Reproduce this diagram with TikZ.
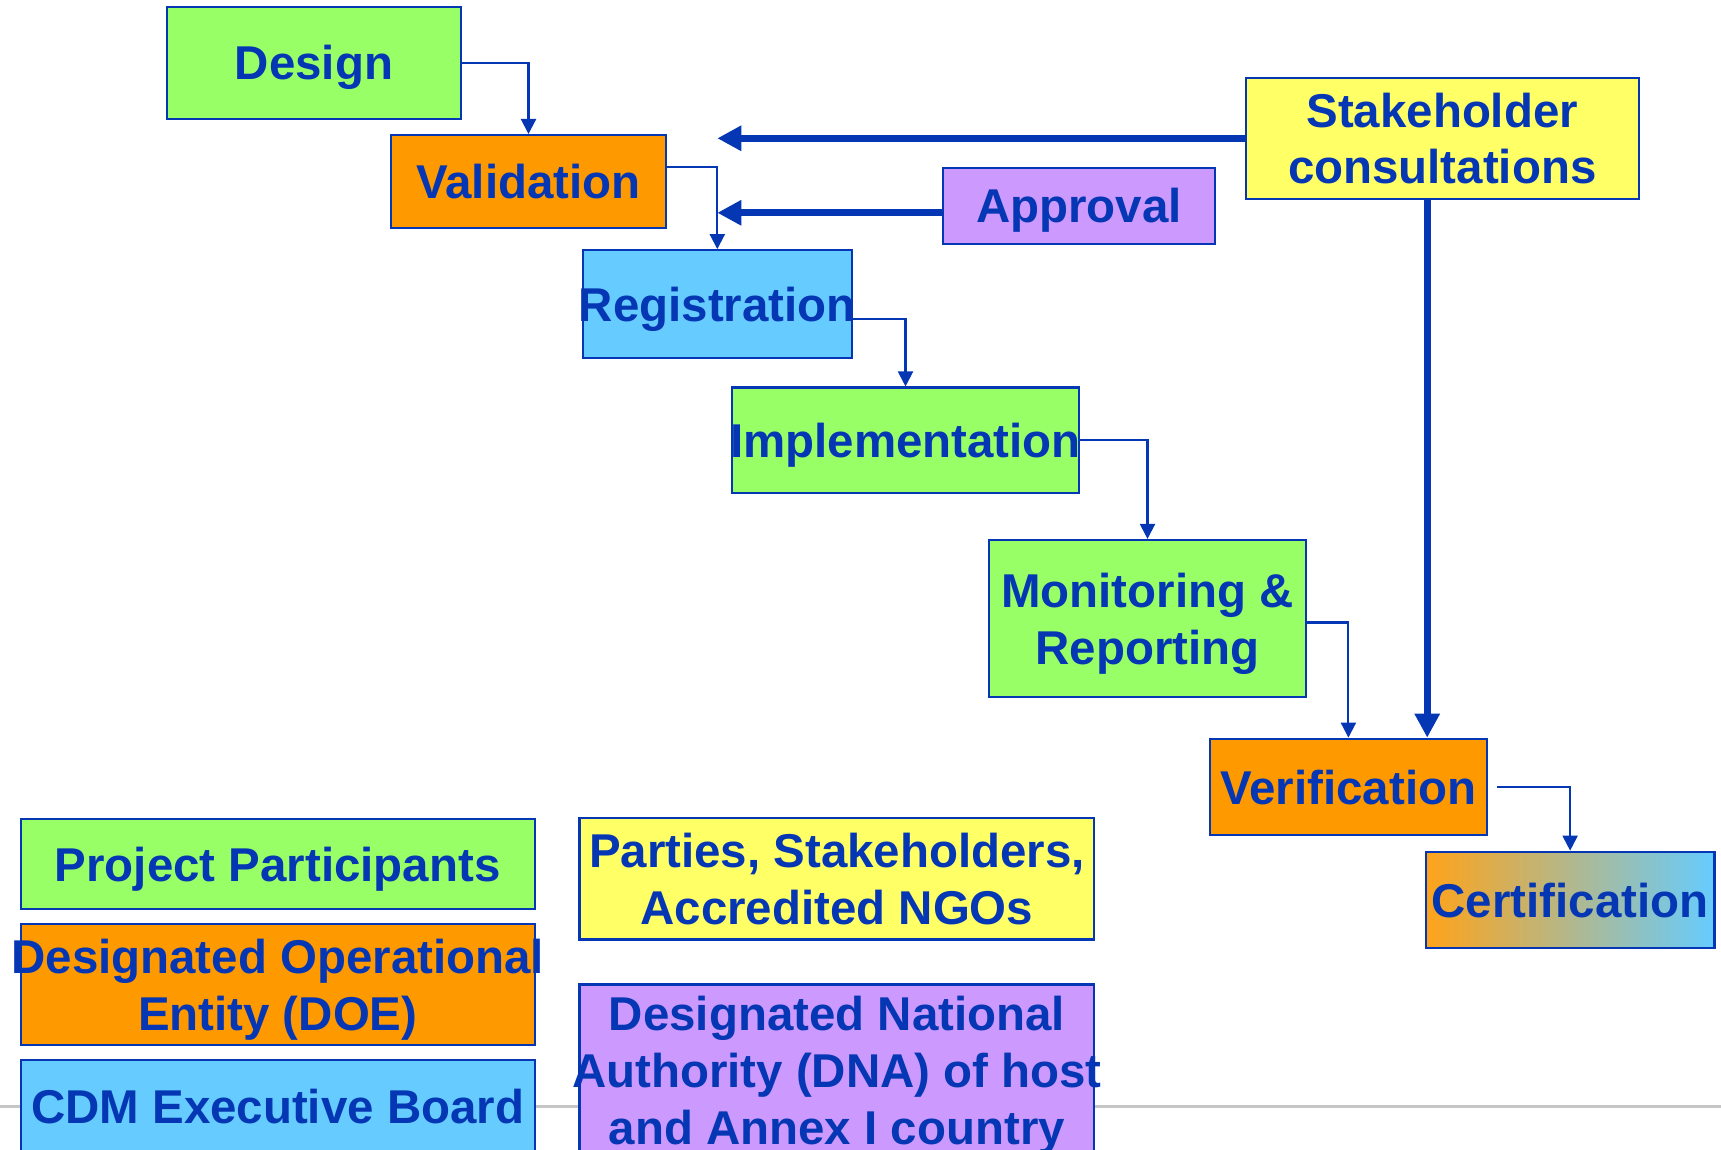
\documentclass[tikz,border=0pt]{standalone}
\usepackage{fontspec}
\setmainfont{Liberation Sans}
\usetikzlibrary{arrows.meta}
\definecolor{ppgreen}{RGB}{153,255,102}
\definecolor{doeorange}{RGB}{255,153,0}
\definecolor{ebblue}{RGB}{102,204,255}
\definecolor{stakeyellow}{RGB}{255,255,102}
\definecolor{dnapurple}{RGB}{204,153,255}
\definecolor{inkblue}{RGB}{5,55,180}
\definecolor{certmid}{RGB}{208,174,168}
\newcommand{\spill}[1]{\makebox[0pt]{#1}}
\begin{document}
\begin{tikzpicture}[
    box/.style={draw=inkblue, line width=0.6pt, inner sep=0pt, text=inkblue, align=center,
      text depth=0pt, font=\fontsize{13.5}{16.2}\selectfont\bfseries},
    flow/.style={draw=inkblue, line width=0.6pt, -{Triangle[length=0.15cm,width=0.15cm]}},
    major/.style={draw=inkblue, line width=0.07cm, -{Triangle[length=0.24cm,width=0.24cm]}}]
    \useasboundingbox (0,0) rectangle (17.21,-11.49);
    \draw [gray!45, line width=0.03cm] (0,-11.06) -- (17.21,-11.06);
    % project cycle
    \node[box, fill=ppgreen, minimum width=2.94cm, minimum height=1.12cm] (design) at (3.139,-0.626) {Design};
    \node[box, fill=doeorange, minimum width=2.755cm, minimum height=0.933cm] (valid) at (5.285,-1.817) {Validation};
    \node[box, fill=ebblue, minimum width=2.689cm, minimum height=1.076cm] (regist) at (7.173,-3.040) {\spill{Registration}};
    \node[box, fill=ppgreen, minimum width=3.468cm, minimum height=1.054cm] (implem) at (9.055,-4.402) {\spill{Implementation}};
    \node[box, fill=ppgreen, minimum width=3.172cm, minimum height=1.57cm] (monit) at (11.475,-6.185) {Monitoring \&\\Reporting};
    \node[box, fill=doeorange, minimum width=2.777cm, minimum height=0.966cm] (verif) at (13.484,-7.870) {Verification};
    \node[box, left color=doeorange!90!white, middle color=certmid, right color=ebblue, minimum width=2.887cm, minimum height=0.966cm] (certif) at (15.701,-9.0) {Certification};
    \node[box, fill=stakeyellow, minimum width=3.929cm, minimum height=1.207cm] (stake) at (14.422,-1.383) {Stakeholder\\consultations};
    \node[box, fill=dnapurple, minimum width=2.722cm, minimum height=0.758cm] (approv) at (10.789,-2.058) {Approval};
    % legend
    \node[box, fill=ppgreen, minimum width=5.137cm, minimum height=0.9cm] (partic) at (2.777,-8.638) {Project Participants};
    \node[box, fill=doeorange, minimum width=5.137cm, minimum height=1.207cm] (doe) at (2.777,-9.845) {\spill{Designated Operational}\\Entity (DOE)};
    \node[box, fill=ebblue, minimum width=5.137cm, minimum height=0.92cm] (board) at (2.777,-11.06) {CDM Executive Board};
    \node[box, fill=stakeyellow, minimum width=5.148cm, minimum height=1.218cm] (parties) at (8.369,-8.786) {Parties, Stakeholders,\\Accredited NGOs};
    \node[box, fill=dnapurple, minimum width=5.148cm, minimum height=1.71cm] (dna) at (8.369,-10.70) {Designated National\\\spill{Authority (DNA) of host}\\and Annex I country};
    % connectors
    \draw[flow] (design.east) -| (valid.north);
    \draw[flow] ([yshift=0.15cm]valid.east) -| (regist.north);
    \draw[flow] ([yshift=-0.15cm]regist.east) -| (implem.north);
    \draw[flow] (implem.east) -| (monit.north);
    \draw[flow] ([yshift=-0.04cm]monit.east) -| (verif.north);
    \draw[flow] ([xshift=0.09cm]verif.east) -| (certif.north);
    \draw[major] (stake.west) -- (stake.west -| regist.north);
    \draw[major] ([yshift=-0.07cm]approv.west) -- ([yshift=-0.07cm]approv.west -| regist.north);
    \draw[major] ([xshift=-0.15cm]stake.south) -- ([xshift=-0.15cm]stake.south |- verif.north);
\end{tikzpicture}
\end{document}
